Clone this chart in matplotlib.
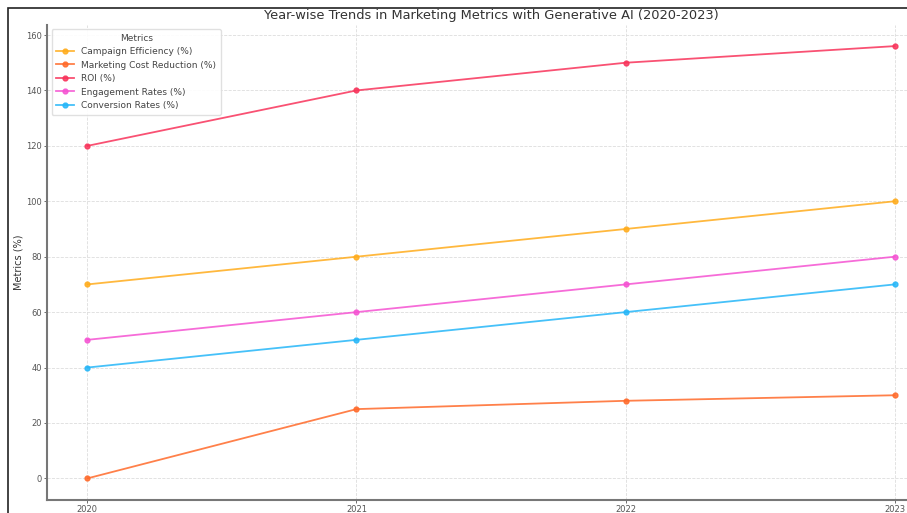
import matplotlib
matplotlib.use('Agg')
import matplotlib.pyplot as plt
from matplotlib.patches import Rectangle

#Year-wise metric values
years = [2020, 2021, 2022, 2023]
campaign_eff = [70, 80, 90, 100]
cost_reduction = [0, 25, 28, 30]
roi = [120, 140, 150, 156]
engagement = [50, 60, 70, 80]
conversion = [40, 50, 60, 70]

labels = ['Campaign Efficiency (%)', 'Marketing Cost Reduction (%)', 'ROI (%)',
          'Engagement Rates (%)', 'Conversion Rates (%)']
colors = ['#ffac1c', '#ff6a2a', '#f8335a', '#f552d2', '#25b6f8']

fig = plt.figure(figsize=(9.07, 5.13), dpi=100)
#Outer frame of the original figure, clipped by the crop on the right and bottom
fig.patches.append(Rectangle((8/907., -0.1), 1.2, 1 - 8/513. + 0.1, transform=fig.transFigure,
                             fill=False, edgecolor='#222222', linewidth=1.2))

ax = fig.add_axes([47/907., 13/513., 888/907., 475.5/513.])
series = [campaign_eff, cost_reduction, roi, engagement, conversion]
for vals, lab, c in zip(series, labels, colors):
    ax.plot(years, vals, marker='o', markersize=3.5, linewidth=1.3, color=c, alpha=0.85, label=lab)

ax.set_xticks(years)
ax.set_yticks(range(0, 161, 20))
ax.tick_params(labelsize=6, colors='#555555', length=2, width=0.6, pad=1.5)
ax.grid(True, linestyle='--', color='#dddddd', linewidth=0.6)
for s in ['top', 'right']:
    ax.spines[s].set_visible(False)
for s in ['left', 'bottom']:
    ax.spines[s].set_color('#777777')
    ax.spines[s].set_linewidth(1.5)
ax.set_ylabel('Metrics (%)', fontsize=7, color='#333333', labelpad=2)
ax.set_title('Year-wise Trends in Marketing Metrics with Generative AI (2020-2023)',
             fontsize=9.4, color='#333333', pad=4)
leg = ax.legend(title='Metrics', loc='upper left', fontsize=6.5, title_fontsize=6.5,
                frameon=True, framealpha=0.9, borderpad=0.5, handlelength=2,
                labelcolor='#444444')
leg.get_frame().set_edgecolor('#dddddd')
leg.get_title().set_color('#444444')

fig.savefig('out.png', dpi=100)
